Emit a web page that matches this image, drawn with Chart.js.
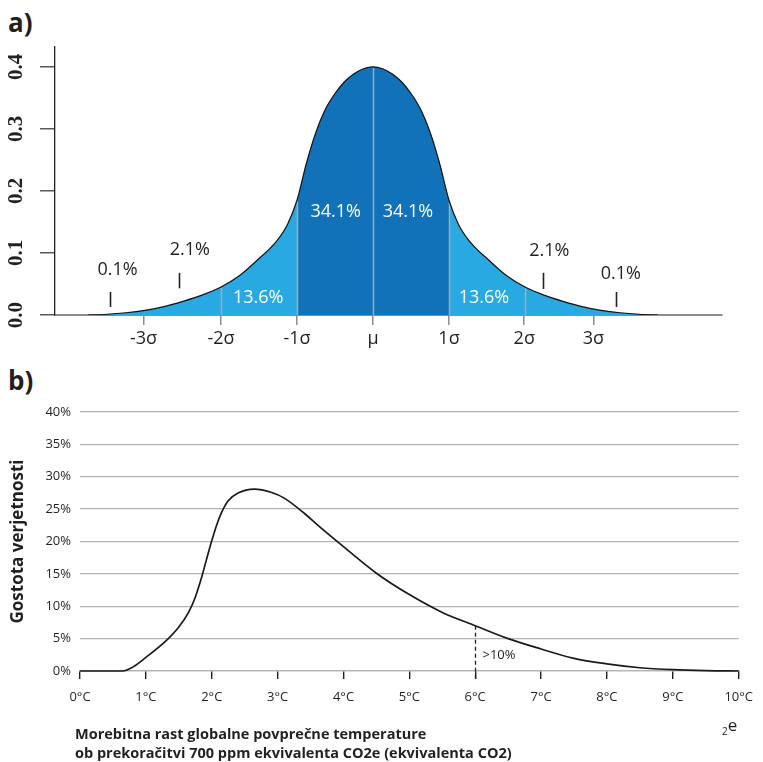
<!DOCTYPE html>
<html>
<head>
<meta charset="utf-8">
<script src="https://cdn.jsdelivr.net/npm/chart.js@4.4.0/dist/chart.umd.min.js"></script>
<style>
    html, body { margin: 0; padding: 0; background: #fff; }
    body { width: 763px; height: 762px; position: relative; overflow: hidden; font-family: "Open Sans", sans-serif; color: #231f20; }
    canvas { position: absolute; left: 0; }
    #chartA { top: 0; }
    #chartB { top: 395px; }
    .tag { position: absolute; left: 8px; font-weight: bold; font-size: 26px; line-height: 26px; }
    .xtitle { position: absolute; left: 75px; top: 724px; font-weight: bold; font-size: 14.5px; line-height: 19px; white-space: nowrap; }
    .stray { position: absolute; left: 722px; top: 715px; font-size: 17px; line-height: 20px; }
    .stray sub { font-size: 10px; vertical-align: -4px; }
</style>
</head>
<body>
<div class="tag" style="top:9px">a)</div>
<div class="tag" style="top:367px">b)</div>
<canvas id="chartA" width="763" height="360"></canvas>
<canvas id="chartB" width="763" height="367"></canvas>
<div class="xtitle">Morebitna rast globalne povprečne temperature<br>ob prekoračitvi 700 ppm ekvivalenta CO2e (ekvivalenta CO2)</div>
<div class="stray"><sub>2</sub>e</div>
<script>
// ---- a) bell curve (x in sigma units)
const SIGMA_X = [-3.75, -3.5, -3.25, -3, -2.75, -2.5, -2.25, -2, -1.75, -1.5, -1.375, -1.25, -1.125, -1,
                 -0.875, -0.75, -0.625, -0.5, -0.375, -0.25, -0.125, 0,
                 0.125, 0.25, 0.375, 0.5, 0.625, 0.75, 0.875,
                 1, 1.125, 1.25, 1.375, 1.5, 1.75, 2, 2.25, 2.5, 2.75, 3, 3.25, 3.5, 3.75];
const DENSITY_A = [0, 0.0012, 0.0036, 0.0075, 0.0135, 0.022, 0.032, 0.045, 0.064, 0.091, 0.105, 0.122, 0.146, 0.185,
                   0.245, 0.295, 0.332, 0.357, 0.376, 0.389, 0.397, 0.4,
                   0.397, 0.389, 0.376, 0.357, 0.332, 0.295, 0.245,
                   0.185, 0.146, 0.122, 0.105, 0.091, 0.064, 0.045, 0.032, 0.022, 0.0135, 0.0075, 0.0036, 0.0012, 0];
const SIGMA_TICKS = [-3.02, -2, -1, 0, 1, 1.99, 2.9];
const SIGMA_TICK_LABELS = ['-3σ', '-2σ', '-1σ', 'μ', '1σ', '2σ', '3σ'];
const SIGMA_LINES = [-2, -1, 0, 1, 2];
const Y_TICKS_A = [0, 0.1, 0.2, 0.3, 0.4];
const SHARE_LABELS = ['0.1%', '2.1%', '13.6%', '34.1%', '34.1%', '13.6%', '2.1%', '0.1%'];

// ---- b) temperature rise distribution
const TEMPS = [0, 0.65, 0.8, 1, 1.3, 1.5, 1.65, 1.75, 1.85, 1.92, 2, 2.07, 2.15, 2.25, 2.4, 2.65, 2.9, 3.1, 3.4,
               3.6, 4, 4.5, 5, 5.5, 6, 6.5, 7, 7.5, 8, 8.5, 9, 9.5, 10];
const DENSITY_B = [0, 0, 0.6, 2.1, 4.6, 6.8, 9.1, 11.4, 14.6, 17.2, 20.1, 22.4, 24.5, 26.3, 27.5, 28.1, 27.6, 26.7, 24.4,
                   22.6, 19.2, 15.1, 11.8, 9.05, 7, 5, 3.4, 1.95, 1.1, 0.5, 0.2, 0.05, 0];
const Y_TICKS_B = [0, 5, 10, 15, 20, 25, 30, 35, 40];
const MARKED_TEMP = 6;
const MARKED_LABEL = '>10%';

const DARK_BLUE = '#1172ba';
const LIGHT_BLUE = '#29a9e1';
const INK = '#231f20';

// where the share labels and their little marks sit, in axis units
const SHARE_POS = [
    { x: -3.36, y: 0.073, color: INK }, { x: -2.41, y: 0.105, color: INK },
    { x: -1.51, y: 0.027, color: '#fff' }, { x: -0.49, y: 0.166, color: '#fff' },
    { x: 0.46, y: 0.166, color: '#fff' }, { x: 1.46, y: 0.027, color: '#fff' },
    { x: 2.32, y: 0.103, color: INK }, { x: 3.26, y: 0.066, color: INK },
];
const SHARE_MARKS = [
    { x: -3.46, y0: 0.013, y1: 0.037 }, { x: -2.55, y0: 0.043, y1: 0.068 },
    { x: 2.24, y0: 0.042, y1: 0.068 }, { x: 3.2, y0: 0.013, y1: 0.037 },
];

Chart.defaults.font.family = '"Open Sans", sans-serif';
Chart.defaults.color = INK;

const bellDecor = {
    id: 'bellDecor',
    beforeDatasetDraw(chart) {
        const { ctx, scales: { x, y } } = chart;
        ctx.save();
        ctx.strokeStyle = '#a7a9ac';
        ctx.lineWidth = 1.5;
        SIGMA_LINES.forEach(s => {
            const v = DENSITY_A[SIGMA_X.indexOf(s)];
            const px = Math.round(x.getPixelForValue(s)) + 0.5;
            ctx.beginPath();
            ctx.moveTo(px, y.getPixelForValue(0));
            ctx.lineTo(px, y.getPixelForValue(v) + 1);
            ctx.stroke();
        });
        ctx.restore();
    },
    afterDraw(chart) {
        const { ctx, scales: { x, y } } = chart;
        ctx.save();
        ctx.font = '18px "Open Sans"';
        ctx.textAlign = 'center';
        ctx.textBaseline = 'middle';
        SHARE_LABELS.forEach((t, i) => {
            const p = SHARE_POS[i];
            ctx.fillStyle = p.color;
            ctx.fillText(t, x.getPixelForValue(p.x), y.getPixelForValue(p.y));
        });
        ctx.strokeStyle = INK;
        ctx.lineWidth = 1.6;
        SHARE_MARKS.forEach(m => {
            const px = Math.round(x.getPixelForValue(m.x)) + 0.5;
            ctx.beginPath();
            ctx.moveTo(px, y.getPixelForValue(m.y0));
            ctx.lineTo(px, y.getPixelForValue(m.y1));
            ctx.stroke();
        });
        // y tick labels, turned on their side in a serif face
        ctx.font = 'bold 21px "Liberation Serif", serif';
        ctx.fillStyle = INK;
        Y_TICKS_A.forEach(v => {
            ctx.save();
            ctx.translate(16, y.getPixelForValue(v));
            ctx.rotate(-Math.PI / 2);
            ctx.fillText(v.toFixed(1), 0, 1);
            ctx.restore();
        });
        ctx.restore();
    },
};

new Chart(document.getElementById('chartA'), {
    type: 'line',
    data: {
        datasets: [{
            data: SIGMA_X.map((s, i) => ({ x: s, y: DENSITY_A[i] })),
            borderColor: '#111',
            borderWidth: 1.2,
            backgroundColor: LIGHT_BLUE,
            fill: 'origin',
            pointRadius: 0,
            cubicInterpolationMode: 'monotone',
            segment: {
                backgroundColor: c => Math.abs(c.p0.parsed.x + c.p1.parsed.x) / 2 < 1 ? DARK_BLUE : LIGHT_BLUE,
            },
        }],
    },
    options: {
        responsive: false,
        animation: false,
        layout: { padding: { top: 47, right: 41, left: 0, bottom: 0 } },
        plugins: { legend: { display: false }, tooltip: { enabled: false } },
        scales: {
            x: {
                type: 'linear',
                min: -4.184,
                max: 4.592,
                afterFit: s => { s.height = 45; },
                afterBuildTicks: s => { s.ticks = SIGMA_TICKS.map(v => ({ value: v })); },
                ticks: {
                    callback: (v, i) => SIGMA_TICK_LABELS[i],
                    font: { size: 18 },
                    color: INK,
                    padding: 3,
                    maxRotation: 0,
                    autoSkip: false,
                },
                grid: { drawOnChartArea: false, tickLength: 10, color: '#8a8c8e', lineWidth: 1.5 },
                border: { color: '#8a8c8e', width: 2 },
            },
            y: {
                min: 0,
                max: 0.432,
                afterFit: s => { s.width = 55; },
                afterBuildTicks: s => { s.ticks = Y_TICKS_A.map(v => ({ value: v })); },
                ticks: { display: false },
                grid: { drawOnChartArea: false, tickLength: 15, color: '#58595b', lineWidth: 1.5 },
                border: { color: INK, width: 1.3 },
            },
        },
    },
    plugins: [bellDecor],
});

const marker = {
    id: 'marker',
    afterDatasetsDraw(chart) {
        const { ctx, scales: { x, y } } = chart;
        const v = DENSITY_B[TEMPS.indexOf(MARKED_TEMP)];
        const px = Math.round(x.getPixelForValue(MARKED_TEMP)) + 0.5;
        ctx.save();
        ctx.strokeStyle = INK;
        ctx.lineWidth = 1.3;
        ctx.setLineDash([4, 3]);
        ctx.beginPath();
        ctx.moveTo(px, y.getPixelForValue(v));
        ctx.lineTo(px, y.getPixelForValue(0) + 9);
        ctx.stroke();
        ctx.setLineDash([]);
        ctx.font = '13px "Open Sans"';
        ctx.fillStyle = INK;
        ctx.textBaseline = 'middle';
        ctx.fillText(MARKED_LABEL, px + 7, y.getPixelForValue(2.5));
        ctx.restore();
    },
};

new Chart(document.getElementById('chartB'), {
    type: 'line',
    data: {
        datasets: [{
            data: TEMPS.map((t, i) => ({ x: t, y: DENSITY_B[i] })),
            borderColor: '#1a1a1a',
            borderWidth: 1.7,
            pointRadius: 0,
            fill: false,
            cubicInterpolationMode: 'monotone',
            clip: 4,
        }],
    },
    options: {
        responsive: false,
        animation: false,
        layout: { padding: { top: 17, right: 16, left: 8, bottom: 0 } },
        plugins: { legend: { display: false }, tooltip: { enabled: false } },
        scales: {
            x: {
                type: 'linear',
                min: 0,
                max: 10,
                afterFit: s => { s.height = 91; },
                ticks: { stepSize: 1, callback: v => v + '°C', font: { size: 13 }, color: INK, padding: 10, maxRotation: 0 },
                grid: { drawOnChartArea: false, tickLength: 8, color: '#231f20', lineWidth: 1.4 },
                border: { color: '#b3b3b3', width: 1.3 },
            },
            y: {
                min: 0,
                max: 40,
                afterFit: s => { s.width = 72; },
                afterBuildTicks: s => { s.ticks = Y_TICKS_B.map(v => ({ value: v })); },
                ticks: { callback: v => v + '%', font: { size: 13 }, color: INK, padding: 9 },
                grid: { drawTicks: false, color: '#b3b3b3', lineWidth: 1.3 },
                border: { display: false },
                title: {
                    display: true,
                    text: 'Gostota verjetnosti',
                    font: { size: 17, weight: 'bold' },
                    color: INK,
                    padding: 0,
                },
            },
        },
    },
    plugins: [marker],
});
</script>
</body>
</html>
